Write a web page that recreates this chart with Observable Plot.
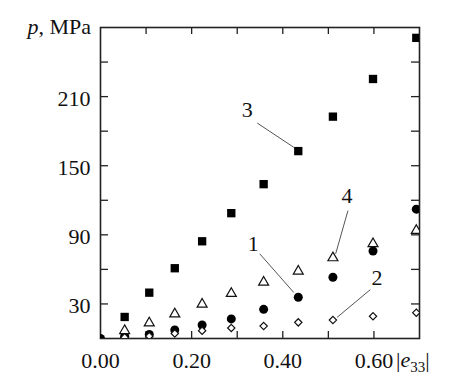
<!DOCTYPE html>
<html><head><meta charset="utf-8">
<script src="https://cdn.jsdelivr.net/npm/d3@7"></script>
<script src="https://cdn.jsdelivr.net/npm/@observablehq/plot@0.6"></script>
<style>
body{margin:0;background:#fff}
svg, svg text { font-family: "Liberation Serif", "Times New Roman", serif !important; }
</style>
</head><body><div id="chart"></div>
<script>
// |e33| values (x)
const e33 = [0, 0.053, 0.107, 0.163, 0.223, 0.287, 0.358, 0.434, 0.51, 0.598, 0.693];
// p, MPa for each curve
const series1 = [0, 2, 3.5, 7.4, 11.7, 17, 25.3, 35.8, 53.2, 76, 112.3];      // filled circles
const series2 = [null, 1, 2, 4.4, 6.8, 9.1, 10.8, 14, 16, 19.3, 22.4];       // open diamonds
const series3 = [null, 18.7, 39.8, 61, 84.4, 108.8, 134, 162.7, 192.6, 225.3, 261]; // filled squares
const series4 = [null, 6.8, 13.5, 21.3, 29.7, 39, 48.8, 58.4, 70, 82.2, 93.7];     // open triangles

const xTicks = [0.1, 0.2, 0.3, 0.4, 0.5, 0.6];
const xLabels = [0, 0.2, 0.4, 0.6];
const yTicks = [30, 60, 90, 120, 150, 180, 210, 240];
const yLabels = [30, 90, 150, 210];

// curve number labels and leader lines (data coordinates)
const curveNames = ["1", "2", "3", "4"];
const labelX = [0.335, 0.607, 0.322, 0.541];
const labelY = [82, 52.6, 198, 124];
const leadX1 = [0.3495, 0.592, 0.344, 0.543];
const leadY1 = [73.5, 42.4, 187, 111];
const leadX2 = [0.424, 0.519, 0.424, 0.516];
const leadY2 = [40, 18.3, 166, 73.5];

const toPts = (ys) => e33.map((x, i) => ({x, y: ys[i]})).filter(d => d.y != null);
const labels = curveNames.map((t, i) => ({t, x: labelX[i], y: labelY[i], x1: leadX1[i], y1: leadY1[i], x2: leadX2[i], y2: leadY2[i]}));

const W = 450, H = 387, mL = 100, mR = 31, mT = 27, mB = 49;
const plotH = H - mT - mB, plotW = W - mL - mR;
const tk = 7;
const serif = "'Liberation Serif', 'Times New Roman', serif";

const plot = Plot.plot({
  width: W, height: H,
  marginLeft: mL, marginRight: mR, marginTop: mT, marginBottom: mB,
  style: {fontFamily: serif, fontSize: "22px", background: "#fff", color: "#111"},
  x: {domain: [0, 0.7]},
  y: {domain: [0, 270]},
  marks: [
    Plot.axisX(xLabels, {tickSize: 0, tickPadding: 14, tickFormat: d => d.toFixed(2), label: null, fontSize: 22, fill: "#111"}),
    Plot.axisY(yLabels, {tickSize: 0, tickPadding: 10, label: null, fontSize: 22, fill: "#111", dy: 2}),
    // inward ticks on all four sides
    Plot.tickX(xTicks, {x: d => d, insetTop: plotH - tk, stroke: "#222", strokeWidth: 1.3}),
    Plot.tickX(xTicks, {x: d => d, insetBottom: plotH - tk, stroke: "#222", strokeWidth: 1.3}),
    Plot.tickY(yTicks, {y: d => d, insetRight: plotW - tk - 1, stroke: "#222", strokeWidth: 1.3}),
    Plot.tickY(yTicks, {y: d => d, insetLeft: plotW - tk - 1, stroke: "#222", strokeWidth: 1.3}),
    Plot.frame({stroke: "#222", strokeWidth: 1.6}),
    Plot.link(labels, {x1: "x1", y1: "y1", x2: "x2", y2: "y2", stroke: "#555", strokeWidth: 1}),
    Plot.text(labels, {x: "x", y: "y", text: "t", fontSize: 22, fill: "#111"}),
    Plot.dot(toPts(series3), {x: "x", y: "y", symbol: "square", r: 4.7, fill: "#000", stroke: "none", clip: true}),
    Plot.dot(toPts(series1), {x: "x", y: "y", symbol: "circle", r: 4.5, fill: "#000", stroke: "none", clip: true}),
    Plot.dot(toPts(series4), {x: "x", y: "y", symbol: "triangle", r: 3.7, fill: "#fff", stroke: "#111", strokeWidth: 1.2, clip: true}),
    Plot.dot(toPts(series2), {x: "x", y: "y", symbol: "diamond2", r: 3.3, fill: "#fff", stroke: "#111", strokeWidth: 1.2, clip: true})
  ]
});

const svg = d3.select(plot);
svg.style("font-family", serif);
// y-axis title: p, MPa
const yt = svg.append("text")
  .attr("x", mL - 9).attr("y", mT + 7)
  .attr("text-anchor", "end")
  .attr("fill", "#111")
  .style("font-size", "22px");
yt.append("tspan").style("font-style", "italic").text("p");
yt.append("tspan").text(", MPa");
// x-axis title: |e33|
const xt = svg.append("text")
  .attr("x", 396).attr("y", 367)
  .attr("text-anchor", "start")
  .attr("fill", "#111")
  .style("font-size", "22px");
xt.append("tspan").text("|");
xt.append("tspan").style("font-style", "italic").text("e");
xt.append("tspan").attr("dy", 5).style("font-size", "15px").text("33");
xt.append("tspan").attr("dy", -5).text("|");

document.getElementById("chart").appendChild(plot);
</script>
</body></html>
